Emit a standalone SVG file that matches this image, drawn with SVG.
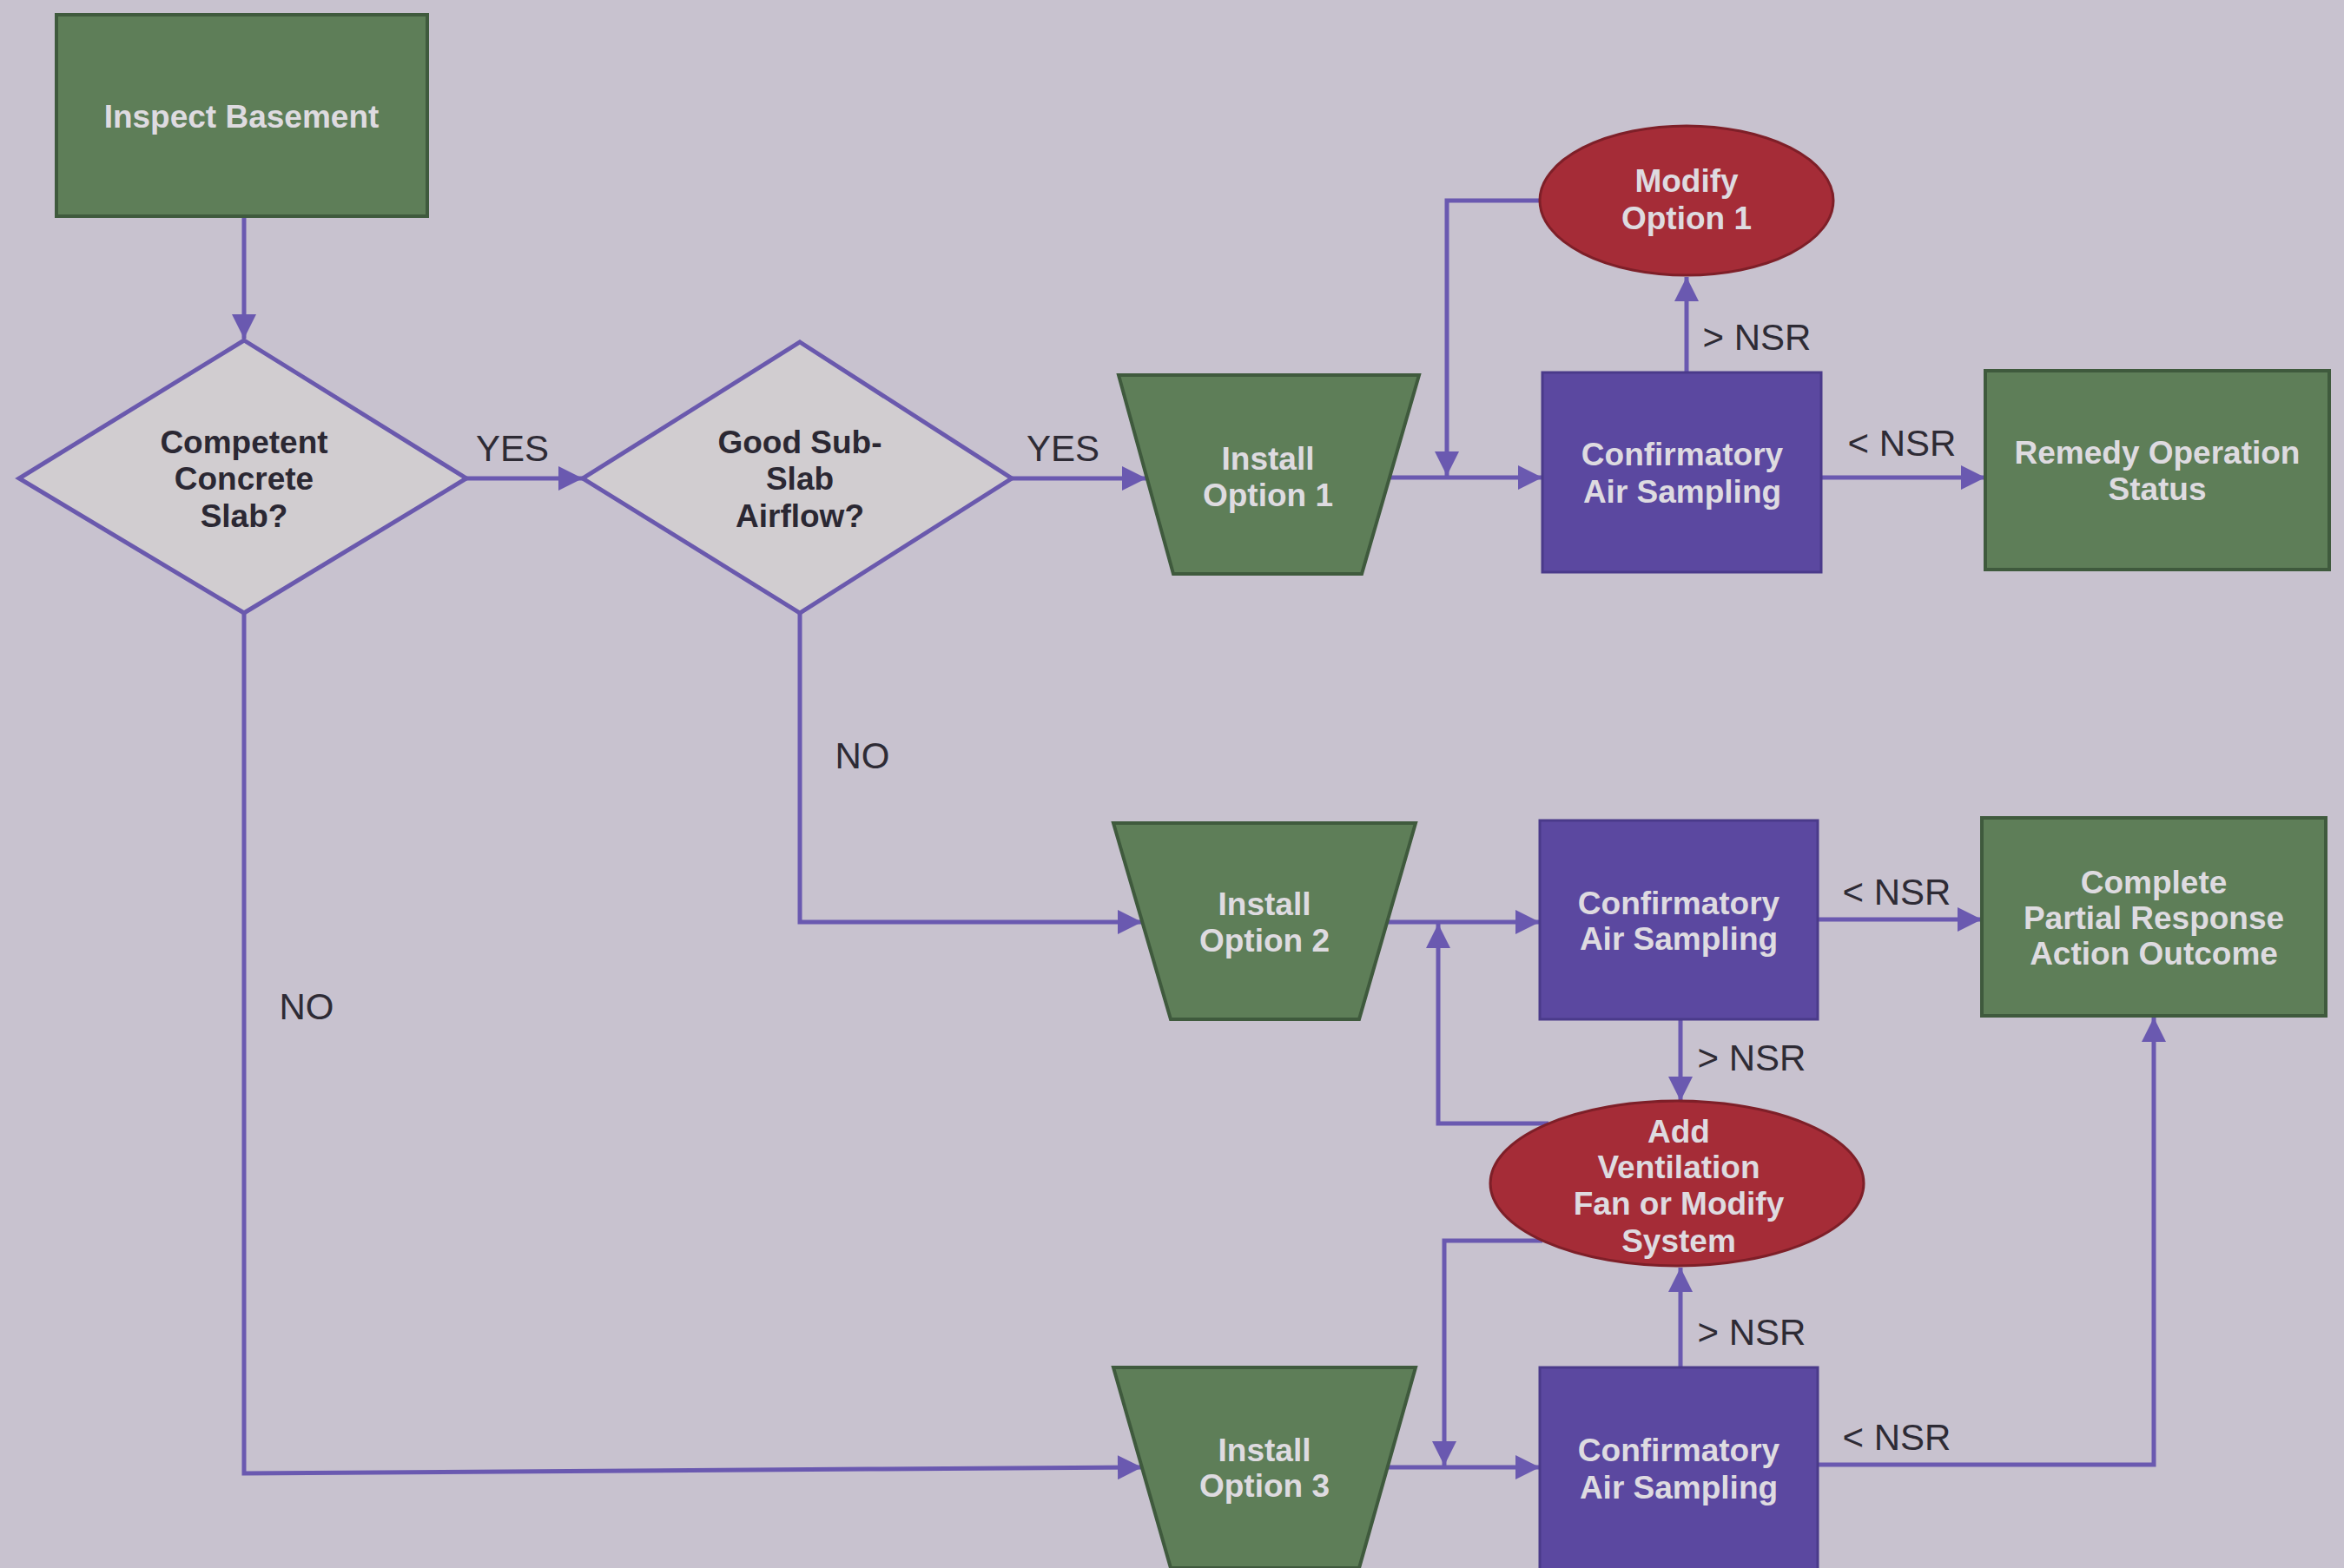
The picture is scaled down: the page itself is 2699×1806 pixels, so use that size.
<svg xmlns="http://www.w3.org/2000/svg" width="2699" height="1806" viewBox="0 0 2699 1806">
<style>
.bg{fill:#c8c2cf}
.green{fill:#5e7e58;stroke:#3f5a3d;stroke-width:4}
.purple{fill:#5b48a0;stroke:#4a3a8a;stroke-width:3}
.red{fill:#a52c37;stroke:#7e1f28;stroke-width:3}
.dia{fill:#d1cdd0;stroke:#6a59ad;stroke-width:5}
.nt{font-family:"Liberation Sans",Arial,sans-serif;font-weight:bold;font-size:37px;fill:#dedbe0;text-anchor:middle}
.dt{font-family:"Liberation Sans",Arial,sans-serif;font-weight:bold;font-size:37px;fill:#2b2833;text-anchor:middle}
.lb{font-family:"Liberation Sans",Arial,sans-serif;font-size:42px;fill:#2e2b35;text-anchor:middle}
.c{fill:none;stroke:#6a59b0;stroke-width:5;marker-end:url(#ah)}
</style>
<defs>
<marker id="ah" viewBox="0 0 10 10" refX="10" refY="5" markerWidth="30" markerHeight="28" markerUnits="userSpaceOnUse" orient="auto">
<path d="M0,0 L10,5 L0,10 z" fill="#6a59b0"/>
</marker>
</defs>
<rect class="bg" x="0" y="0" width="2699" height="1806"/>

<g id="connectors">
<path class="c" d="M281,251 V390"/>
<path class="c" d="M537,551 H671"/>
<path class="c" d="M1165,551 H1320"/>
<path class="c" d="M1599,550 H1776"/>
<path class="c" d="M1942,429 V319"/>
<path class="c" d="M1773,231 H1666 V548"/>
<path class="c" d="M2097,550 H2286"/>
<path class="c" d="M921,706 V1062 H1315"/>
<path class="c" d="M1597,1062 H1773"/>
<path class="c" d="M2093,1059 H2282"/>
<path class="c" d="M1935,1174 V1268"/>
<path class="c" d="M1783,1294 H1656 V1064"/>
<path class="c" d="M1776,1429 H1663 V1688"/>
<path class="c" d="M1935,1575 V1460"/>
<path class="c" d="M281,706 V1697 L1000,1692 L1315,1690"/>
<path class="c" d="M1597,1690 H1773"/>
<path class="c" d="M2093,1687 H2480 V1172"/>
</g>

<g id="labels">
<text class="lb" x="590" y="531">YES</text>
<text class="lb" x="1224" y="531">YES</text>
<text class="lb" x="993" y="885">NO</text>
<text class="lb" x="353" y="1174">NO</text>
<text class="lb" x="2023" y="403">&gt; NSR</text>
<text class="lb" x="2190" y="525">&lt; NSR</text>
<text class="lb" x="2184" y="1042">&lt; NSR</text>
<text class="lb" x="2017" y="1233">&gt; NSR</text>
<text class="lb" x="2017" y="1549">&gt; NSR</text>
<text class="lb" x="2184" y="1670">&lt; NSR</text>
</g>

<g id="inspect-basement">
<rect class="green" x="65" y="17" width="427" height="232"/>
<text class="nt" x="278" y="147">Inspect Basement</text>
</g>

<g id="competent-slab">
<polygon class="dia" points="281,392 537,551 281,706 22,551"/>
<text class="dt" x="281" y="522">Competent</text>
<text class="dt" x="281" y="564">Concrete</text>
<text class="dt" x="281" y="607">Slab?</text>
</g>

<g id="good-airflow">
<polygon class="dia" points="921,394 1165,551 921,706 671,551"/>
<text class="dt" x="921" y="522">Good Sub-</text>
<text class="dt" x="921" y="564">Slab</text>
<text class="dt" x="921" y="607">Airflow?</text>
</g>

<g id="install-option-1">
<polygon class="green" points="1288,432 1634,432 1568,661 1351,661"/>
<text class="nt" x="1460" y="541">Install</text>
<text class="nt" x="1460" y="583">Option 1</text>
</g>

<g id="confirmatory-1">
<rect class="purple" x="1776" y="429" width="321" height="230"/>
<text class="nt" x="1937" y="536">Confirmatory</text>
<text class="nt" x="1937" y="579">Air Sampling</text>
</g>

<g id="modify-option-1">
<ellipse class="red" cx="1942" cy="231" rx="169" ry="86"/>
<text class="nt" x="1942" y="221">Modify</text>
<text class="nt" x="1942" y="264">Option 1</text>
</g>

<g id="remedy-operation-status">
<rect class="green" x="2286" y="427" width="396" height="229"/>
<text class="nt" x="2484" y="534">Remedy Operation</text>
<text class="nt" x="2484" y="576">Status</text>
</g>

<g id="install-option-2">
<polygon class="green" points="1282,948 1630,948 1565,1174 1348,1174"/>
<text class="nt" x="1456" y="1054">Install</text>
<text class="nt" x="1456" y="1096">Option 2</text>
</g>

<g id="confirmatory-2">
<rect class="purple" x="1773" y="945" width="320" height="229"/>
<text class="nt" x="1933" y="1053">Confirmatory</text>
<text class="nt" x="1933" y="1094">Air Sampling</text>
</g>

<g id="complete-partial">
<rect class="green" x="2282" y="942" width="396" height="228"/>
<text class="nt" x="2480" y="1029">Complete</text>
<text class="nt" x="2480" y="1070">Partial Response</text>
<text class="nt" x="2480" y="1111">Action Outcome</text>
</g>

<g id="add-ventilation">
<ellipse class="red" cx="1931" cy="1363" rx="215" ry="95"/>
<text class="nt" x="1933" y="1316">Add</text>
<text class="nt" x="1933" y="1357">Ventilation</text>
<text class="nt" x="1933" y="1399">Fan or Modify</text>
<text class="nt" x="1933" y="1442">System</text>
</g>

<g id="install-option-3">
<polygon class="green" points="1282,1575 1630,1575 1565,1806 1348,1806"/>
<text class="nt" x="1456" y="1683">Install</text>
<text class="nt" x="1456" y="1724">Option 3</text>
</g>

<g id="confirmatory-3">
<rect class="purple" x="1773" y="1575" width="320" height="233"/>
<text class="nt" x="1933" y="1683">Confirmatory</text>
<text class="nt" x="1933" y="1726">Air Sampling</text>
</g>
</svg>
